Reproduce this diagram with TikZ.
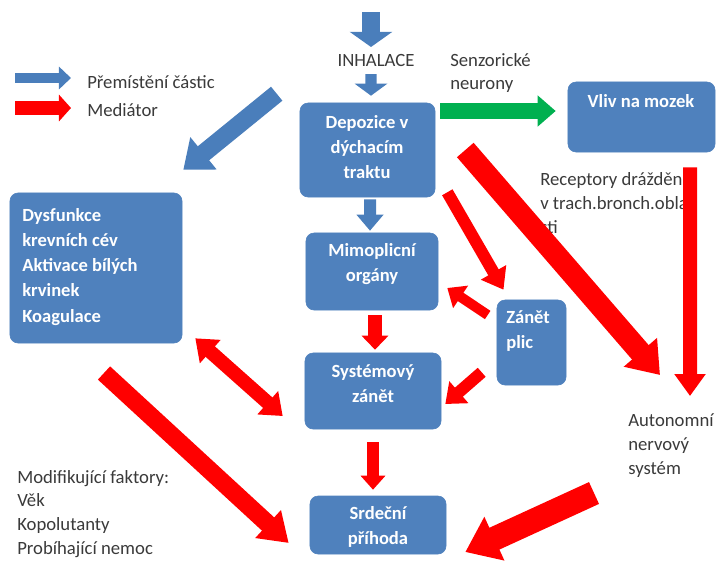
\documentclass[tikz,border=0pt]{standalone}
\usepackage{fontspec}
\setmainfont{Carlito}
\usetikzlibrary{arrows.meta,positioning}
\definecolor{boxblue}{HTML}{4F81BD}
\definecolor{arrblue}{HTML}{4A7EBB}
\definecolor{arrred}{HTML}{FF0000}
\definecolor{arrgreen}{HTML}{00B050}
\definecolor{txtgray}{HTML}{3A3A3A}
\newcommand{\boxfont}{\fontsize{13.2}{17.8}\selectfont\bfseries}
\newcommand{\notefont}{\fontsize{13.3}{17}\selectfont}

\begin{document}
\begin{tikzpicture}[
      x=0.025cm, y=-0.025cm,
      box/.style={fill=boxblue, draw=boxblue, rounded corners=0.2cm, inner sep=0pt},
      boxtext/.style={font=\boxfont, text=white, inner sep=0pt},
      note/.style={font=\notefont, text=txtgray, align=left, inner sep=0pt},
      fat/.style n args={3}{line width=#1, -{Triangle[width=#2, length=#3]}}
    ]
    \useasboundingbox (0,0) rectangle (716,560);

    % boxes
    \node[box, minimum width=3.375cm, minimum height=2.35cm] (dep) at (367.5,150) {};
    \node[box, minimum width=3.675cm, minimum height=1.75cm] (vliv) at (641.5,117) {};
    \node[box, minimum width=4.3cm, minimum height=3.75cm] (dys) at (96,268) {};
    \node[box, minimum width=3.3cm, minimum height=1.925cm] (mimo) at (372,271.5) {};
    \node[box, minimum width=1.725cm, minimum height=2.125cm] (zanet) at (531.5,342.5) {};
    \node[box, minimum width=3.4cm, minimum height=1.9cm] (sys) at (373,391) {};
    \node[box, minimum width=3.4cm, minimum height=1.45cm] (srd) at (378,525) {};

    % box texts
    \node[boxtext, align=center] (dep-t) at (367,147.5) {Depozice v\\dýchacím\\traktu};
    \node[boxtext] (vliv-t) at (641,101) {Vliv na mozek};
    \node[boxtext, align=left, anchor=west] (dys-t) at (22,267)
      {Dysfunkce\\krevních cév\\Aktivace bílých\\krvinek\\Koagulace};
    \node[boxtext, align=center] (mimo-t) at (372,264) {Mimoplicní\\orgány};
    \node[boxtext, align=left, anchor=west] (zanet-t) at (506,331) {Zánět\\plic};
    \node[boxtext, align=center] (sys-t) at (373,384) {Systémový\\zánět};
    \node[boxtext, align=center] (srd-t) at (378,527) {Srdeční\\příhoda};

    % free texts
    \node[note] (inh) at (376,60) {INHALACE};
    \node[note, anchor=west] (sen) at (450,73) {Senzorické\\neurony};
    \node[note, anchor=west] (rec) at (540,203) {Receptory dráždění\\v trach.bronch.obla\\sti};
    \node[note, anchor=west] (ans) at (628,446) {Autonomní\\nervový\\systém};
    \node[note, anchor=west] (mod) at (17,514) {Modifikující faktory:\\Věk\\Kopolutanty\\Probíhající nemoc};
    \node[note, anchor=west] (leg-blue) at (87,82) {Přemístění částic};
    \node[note, anchor=west] (leg-red) at (87,110) {Mediátor};

    % legend
    \coordinate (lb) at (15,78);
    \coordinate (lr) at (15,108);
    \draw[arrblue, fat={0.25cm}{0.55cm}{0.3cm}] (lb) -- ([shift={(-16,-4)}]leg-blue.west);
    \draw[arrred, fat={0.35cm}{0.65cm}{0.3cm}] (lr) -- ([shift={(-16,-2)}]leg-red.west);

    % particle flow
    \coordinate (air) at (371,12);
    \draw[arrblue, fat={0.45cm}{1.05cm}{0.38cm}] (air) -- ([shift={(-5,-13)}]inh.center);
    \draw[arrblue, fat={0.28cm}{0.8cm}{0.3cm}] ([shift={(-5,14)}]inh.center) -- ([shift={(3.5,-7)}]dep.north);
    \draw[arrblue, fat={0.45cm}{1cm}{0.65cm}] ([shift={(-23,-9)}]dep.north west) -- ([shift={(1,-23)}]dys.north east);
    \draw[arrblue, fat={0.3cm}{0.65cm}{0.4cm}] ([shift={(2.5,2)}]dep.south) -- ([shift={(-2,-2)}]mimo.north);
    \draw[arrgreen, fat={0.4cm}{0.75cm}{0.45cm}] ([shift={(5,-39)}]dep.east) -- ([shift={(-12,-6)}]vliv.west);

    % mediators
    \draw[arrred, fat={0.3cm}{0.7cm}{0.5cm}] ([shift={(12,-5)}]dep.south east) -- ([shift={(-28,-10)}]zanet.north);
    \draw[arrred, fat={0.55cm}{1.05cm}{0.75cm}] ([shift={(30,0)}]dep.east) -- ([shift={(32,-71)}]ans.west);
    \draw[arrred, fat={0.35cm}{0.75cm}{0.55cm}] ([shift={(48.5,15)}]vliv.south) -- ([shift={(62,-50)}]ans.west);
    \draw[arrred, fat={0.25cm}{0.65cm}{0.4cm}] ([shift={(-9,-27.5)}]zanet.west) -- ([shift={(9,16.5)}]mimo.east);
    \draw[arrred, fat={0.33cm}{0.65cm}{0.35cm}] ([shift={(3,5)}]mimo.south) -- ([shift={(2,-3)}]sys.north);
    \draw[arrred, fat={0.3cm}{0.7cm}{0.45cm}] ([shift={(-15,-13)}]zanet.south west) -- ([shift={(4,13)}]sys.east);
    \draw[arrred, line width=0.35cm, {Triangle[width=0.75cm, length=0.5cm]}-{Triangle[width=0.75cm, length=0.5cm]}]
      ([shift={(13,-5)}]dys.south east) -- ([shift={(-22,25)}]sys.west);
    \coordinate (modtop) at (104,373);
    \draw[arrred, fat={0.45cm}{0.9cm}{0.7cm}] (modtop) -- ([shift={(-21,18)}]srd.west);
    \draw[arrred, fat={0.28cm}{0.6cm}{0.35cm}] ([shift={(0,13)}]sys.south) -- ([shift={(-5,-6)}]srd.north);
    \draw[arrred, fat={0.6cm}{1.15cm}{0.8cm}] ([shift={(-34,47)}]ans.west) -- ([shift={(19,27)}]srd.east);
\end{tikzpicture}
\end{document}
